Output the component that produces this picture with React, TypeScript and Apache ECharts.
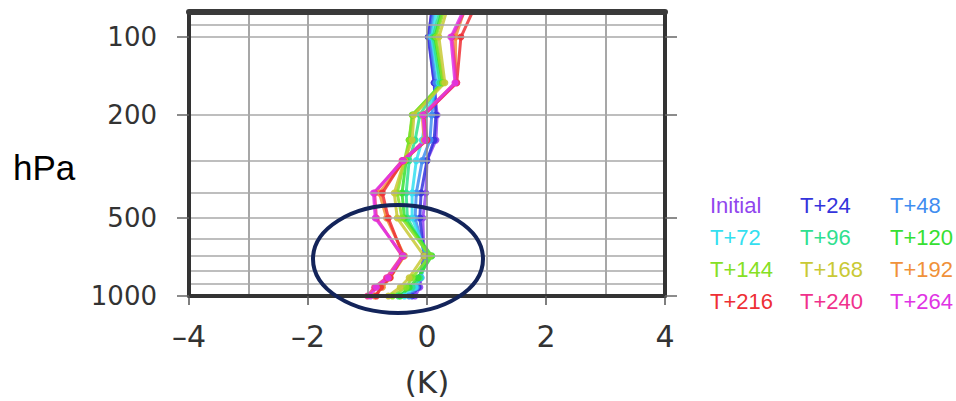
import React, { useEffect, useRef } from "react";
import * as echarts from "echarts";

// Pressure levels (hPa) of the profile points
const LEVELS = [70, 100, 150, 200, 250, 300, 400, 500, 700, 850, 925, 1000];

// Forecast lead names and colours
const SERIES_NAMES = [
  "Initial", "T+24", "T+48",
  "T+72", "T+96", "T+120",
  "T+144", "T+168", "T+192",
  "T+216", "T+240", "T+264",
];
const SERIES_COLORS = [
  "#9146ee", "#3434dc", "#3f8df0",
  "#34dff0", "#2fe08f", "#36e032",
  "#86e024", "#c9c935", "#f0913a",
  "#ee2f35", "#f0318c", "#e034e4",
];

// Temperature differences (K) at LEVELS
const INITIAL = [0.1, 0.03, 0.12, 0.17, 0.15, 0.0, -0.02, -0.07, -0.05, -0.1, -0.12, -0.2];
const T24 = [0.12, 0.02, 0.12, 0.15, 0.12, 0.0, -0.1, -0.12, -0.05, -0.12, -0.15, -0.25];
const T48 = [0.15, 0.05, 0.15, 0.08, 0.05, -0.08, -0.18, -0.2, -0.03, -0.12, -0.18, -0.3];
const T72 = [0.2, 0.08, 0.2, -0.02, -0.08, -0.18, -0.25, -0.25, 0.0, -0.1, -0.2, -0.38];
const T96 = [0.28, 0.1, 0.22, -0.12, -0.2, -0.3, -0.35, -0.33, 0.02, -0.12, -0.25, -0.48];
const T120 = [0.32, 0.13, 0.26, -0.24, -0.3, -0.35, -0.42, -0.38, 0.08, -0.15, -0.3, -0.45];
const T144 = [0.35, 0.15, 0.27, -0.25, -0.3, -0.38, -0.5, -0.42, 0.05, -0.25, -0.35, -0.58];
const T168 = [0.4, 0.2, 0.3, -0.22, -0.25, -0.38, -0.55, -0.5, -0.05, -0.3, -0.45, -0.65];
const T192 = [0.7, 0.48, 0.48, -0.08, -0.05, -0.38, -0.8, -0.68, -0.38, -0.62, -0.75, -0.88];
const T216 = [0.88, 0.57, 0.5, -0.05, 0.0, -0.4, -0.75, -0.65, -0.4, -0.62, -0.78, -0.85];
const T240 = [0.75, 0.42, 0.5, -0.05, -0.02, -0.42, -0.88, -0.85, -0.42, -0.68, -0.88, -1.0];
const T264 = [0.72, 0.4, 0.47, -0.07, -0.03, -0.4, -0.9, -0.87, -0.4, -0.65, -0.85, -0.95];
const SERIES_VALUES = [INITIAL, T24, T48, T72, T96, T120, T144, T168, T192, T216, T240, T264];

// Axes
const GRID_LEVELS = [90, 100, 200, 300, 400, 500, 600, 700, 800, 900];
const Y_TICKS = [100, 200, 500, 1000];
const Y_MIN = 80;
const Y_MAX = 1000;
const X_MIN = -4;
const X_MAX = 4;

// Legend columns
const LEGEND_COLUMNS = [
  ["Initial", "T+72", "T+144", "T+216"],
  ["T+24", "T+96", "T+168", "T+240"],
  ["T+48", "T+120", "T+192", "T+264"],
];

const W = 956;
const H = 401;

export default function App() {
  const ref = useRef<HTMLDivElement>(null);

  useEffect(() => {
    if (!ref.current) return;
    const chart = echarts.init(ref.current, null, { renderer: "svg", width: W, height: H });
    const colorOf = (n: string) => SERIES_COLORS[SERIES_NAMES.indexOf(n)];

    const lineSeries = SERIES_NAMES.map((name, i) => ({
      name,
      type: "line",
      xAxisIndex: 0,
      yAxisIndex: 0,
      data: LEVELS.map((p, j) => [SERIES_VALUES[i][j], p]),
      symbol: "circle",
      symbolSize: 7,
      color: SERIES_COLORS[i],
      lineStyle: { width: 3, color: SERIES_COLORS[i], opacity: 0.85 },
      itemStyle: { color: SERIES_COLORS[i], opacity: 0.9 },
      z: 3,
      silent: true,
    }));

    const option: any = {
      animation: false,
      backgroundColor: "#ffffff",
      title: {
        text: "hPa",
        left: 13,
        top: 150,
        padding: 0,
        textStyle: { fontSize: 35, fontWeight: "normal", color: "#000", fontFamily: "Liberation Sans" },
      },
      grid: {
        left: 189,
        right: 291,
        top: 12,
        bottom: 105,
        show: false,
        containLabel: false,
        outerBoundsMode: "none",
      },
      xAxis: [
        {
          type: "value",
          position: "bottom",
          min: X_MIN,
          max: X_MAX,
          interval: 2,
          axisLine: { show: true, onZero: false, lineStyle: { color: "#333", width: 4 } },
          axisTick: { show: true, length: 9, lineStyle: { color: "#555", width: 1.5 } },
          minorTick: { show: false, splitNumber: 2 },
          axisLabel: {
            margin: 25,
            fontSize: 30,
            color: "#333",
            fontFamily: "DejaVu Sans",
            formatter: (v: number) => (v < 0 ? "\u2013" + Math.abs(v) : String(v)),
          },
          splitLine: { show: true, lineStyle: { color: "#8a8a8a", width: 1.5 } },
          minorSplitLine: { show: true, lineStyle: { color: "#8a8a8a", width: 1.5 } },
          name: "(K)",
          nameLocation: "middle",
          nameGap: 70,
          nameTextStyle: { fontSize: 31, color: "#333", fontFamily: "DejaVu Sans" },
          z: 5,
        },
        {
          type: "value",
          position: "top",
          min: X_MIN,
          max: X_MAX,
          interval: 2,
          axisLine: { show: true, onZero: false, lineStyle: { color: "#3a3a3a", width: 6 } },
          axisTick: { show: false },
          axisLabel: { show: false },
          splitLine: { show: false },
          z: 10,
        },
      ],
      yAxis: [
        {
          type: "log",
          logBase: 10,
          position: "left",
          min: Y_MIN,
          max: Y_MAX,
          inverse: true,
          axisLine: { show: true, onZero: false, lineStyle: { color: "#333", width: 4 } },
          axisTick: { show: true, length: 12, customValues: Y_TICKS, lineStyle: { color: "#666", width: 1.5 } },
          axisLabel: {
            customValues: Y_TICKS,
            margin: 32,
            fontSize: 26,
            color: "#333",
            fontFamily: "DejaVu Sans",
            formatter: (v: number) => String(Math.round(v)),
          },
          splitLine: { show: false },
          minorTick: { show: false },
          minorSplitLine: { show: false },
          z: 5,
        },
        {
          type: "log",
          logBase: 10,
          position: "right",
          min: Y_MIN,
          max: Y_MAX,
          inverse: true,
          axisLine: { show: true, onZero: false, lineStyle: { color: "#333", width: 4 } },
          axisTick: { show: true, length: 12, customValues: Y_TICKS, lineStyle: { color: "#666", width: 1.5 } },
          axisLabel: { show: false },
          splitLine: { show: false },
          minorTick: { show: false },
          minorSplitLine: { show: false },
          z: 5,
        },
      ],
      legend: LEGEND_COLUMNS.map((names, ci) => ({
        orient: "vertical",
        left: 705 + ci * 90,
        top: 194,
        padding: 0,
        itemGap: 10,
        itemWidth: 0,
        itemHeight: 22,
        icon: "none",
        selectedMode: false,
        data: names.map((n) => ({ name: n, icon: "none", textStyle: { color: colorOf(n) } })),
        textStyle: { fontSize: 22, lineHeight: 22, fontFamily: "Liberation Sans" },
      })),
      graphic: [
        {
          type: "ellipse",
          shape: { cx: 398, cy: 259, rx: 85, ry: 54 },
          style: { fill: "none", stroke: "#13245a", lineWidth: 4 },
          z: 100,
          silent: true,
        },
      ],
      series: [
        {
          name: "__grid",
          type: "line",
          xAxisIndex: 0,
          yAxisIndex: 0,
          data: [],
          silent: true,
          z: 1,
          markLine: {
            silent: true,
            symbol: ["none", "none"],
            label: { show: false },
            animation: false,
            lineStyle: { color: "#a8a8a8", type: "solid", width: 1.5 },
            emphasis: { disabled: true },
            data: GRID_LEVELS.map((p) => ({ yAxis: p })),
          },
        },
        ...lineSeries,
      ],
    };

    chart.setOption(option);
    return () => chart.dispose();
  }, []);

  return (
    <div
      ref={ref}
      style={{ position: "fixed", left: 0, top: 0, width: W, height: H, background: "#fff" }}
    />
  );
}
